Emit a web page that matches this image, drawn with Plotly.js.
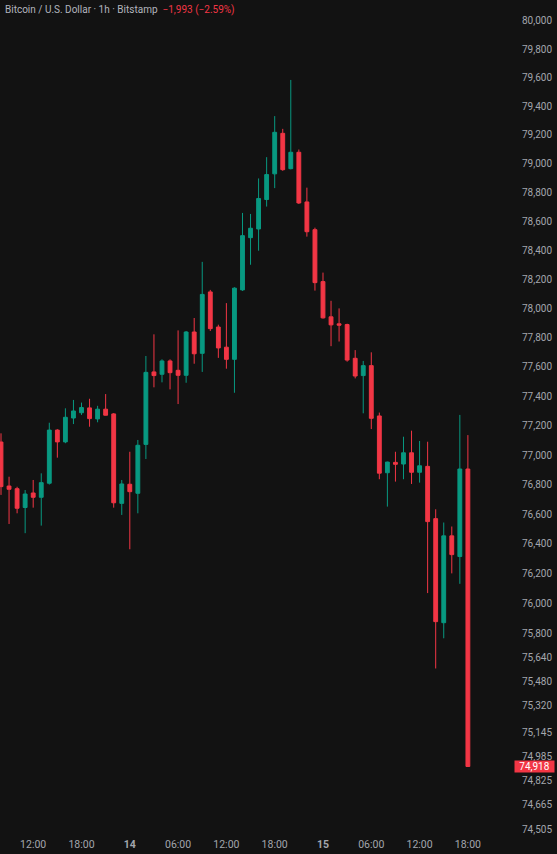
<!DOCTYPE html>
<html>
<head>
<meta charset="utf-8">
<script src="https://cdn.plot.ly/plotly-3.0.1.min.js"></script>
<style>
  html, body { margin: 0; padding: 0; background: #121212; }
  #chart { width: 557px; height: 854px; }
</style>
</head>
<body>
<div id="chart"></div>
<script>
// Hourly candles, 13th 08:00 -> 15th 18:00 (Bitstamp BTC/USD, 1h)
const startHour = '2026-02-13T08:00:00Z';
const opens  = [77088,76790,76772,76645,76743,76714,76809,77169,77089,77251,77287,77320,77245,77311,77279,76673,
                76802,76741,77072,77565,77549,77640,77576,77542,77838,77692,78113,77872,77734,77651,78127,78487,78547,78751,78929,79211,78965,79079,78734,78542,
                78184,77942,77894,77889,77658,77540,77608,77265,76880,76950,76939,77015,76883,76923,76570,75872,76454,76315,76905];
const highs  = [77147,76853,76785,76763,76831,76876,77219,77175,77317,77374,77356,77382,77334,77414,77285,76831,
                77022,77102,77674,77822,77651,77651,77849,77845,77934,78320,78127,77888,78036,78145,78658,78651,78897,79045,79331,79242,79584,79098,78833,78556,
                78246,78052,78000,77895,77714,77640,77699,77288,76955,77022,77124,77165,77095,77090,76633,76544,76517,77272,77135];
const lows   = [76730,76534,76606,76472,76644,76523,76800,76982,77080,77210,77272,77192,77222,77300,76644,76595,
                76364,76606,76973,77460,77494,77446,77346,77491,77621,77565,77845,77661,77587,77423,78120,78300,78397,78702,78830,78950,78960,78720,78494,78122,
                77930,77741,77773,77635,77521,77283,77176,76836,76651,76820,76836,76804,76813,76070,75567,75768,76202,76132,74918];
const closes = [76786,76768,76640,76736,76714,76813,77169,77089,77256,77299,77322,77247,77311,77270,76677,76804,
                76752,77066,77562,77540,77640,77560,77542,77838,77689,78096,77861,77729,77651,78139,78501,78552,78758,78924,79218,78958,79079,78727,78528,78177,
                77935,77887,77885,77646,77537,77608,77249,76877,76952,76937,77015,76883,76927,76550,75879,76454,76328,76905,74918];

const priceTicks = [80000,79800,79600,79400,79200,79000,78800,78600,78400,78200,78000,77800,77600,77400,77200,77000,
                    76800,76600,76400,76200,76000,75800,75640,75480,75320,75145,74985,74825,74665,74505];
const timeTickHours = [4,10,16,22,28,34,40,46,52,58]; // hours after start
const timeTickLabels = ['12:00','18:00','<b>14</b>','06:00','12:00','18:00','<b>15</b>','06:00','12:00','18:00'];

const titleText = 'Bitcoin / U.S. Dollar · 1h · Bitstamp';
const changeText = '\u22121,993 (\u22122.59%)';
const lastPriceText = '74,918';

const H = 3600000;
const t0 = new Date(startHour).getTime();
function fmt(ms) {
  const d = new Date(ms);
  const p = (n, l=2) => String(n).padStart(l, '0');
  return d.getUTCFullYear() + '-' + p(d.getUTCMonth()+1) + '-' + p(d.getUTCDate()) + ' ' +
         p(d.getUTCHours()) + ':' + p(d.getUTCMinutes()) + ':' + p(d.getUTCSeconds()) + '.' + p(d.getUTCMilliseconds(),3);
}
const times = opens.map((_, i) => fmt(t0 + i * H));

const GREEN = '#089981', RED = '#f23645';
const fontFam = 'Roboto, Inter, "Noto Sans", sans-serif';

const trace = {
  type: 'candlestick',
  x: times, open: opens, high: highs, low: lows, close: closes,
  increasing: { line: { color: GREEN, width: 1 }, fillcolor: GREEN },
  decreasing: { line: { color: RED, width: 1 }, fillcolor: RED },
  whiskerwidth: 0,
  hoverinfo: 'skip'
};

const layout = {
  width: 557, height: 854,
  paper_bgcolor: '#121212', plot_bgcolor: '#121212',
  margin: { l: 0, r: 45, t: 0, b: 18 },
  showlegend: false,
  boxgap: 0.32,
  font: { family: fontFam, size: 10, color: '#a3a6ad' },
  xaxis: {
    type: 'date',
    range: [fmt(t0 - 0.124 * H), fmt(t0 + 63.48 * H)],
    rangeslider: { visible: false },
    showgrid: false, zeroline: false, showline: false, ticks: '',
    tickmode: 'array',
    tickvals: timeTickHours.map(h => fmt(t0 + h * H)),
    ticktext: timeTickLabels,
    tickfont: { family: fontFam, size: 10.5, color: '#a3a6ad' },
    fixedrange: true
  },
  yaxis: {
    type: 'log', side: 'right',
    range: [4.871929, 4.903881],
    showgrid: false, zeroline: false, showline: false, ticks: '',
    tickmode: 'array',
    tickvals: priceTicks,
    ticktext: priceTicks.map(v => v.toLocaleString('en-US')),
    ticklabelstandoff: 9,
    tickfont: { family: fontFam, size: 10, color: '#a3a6ad' },
    fixedrange: true
  },
  annotations: [
    {
      xref: 'paper', yref: 'paper', x: 0, y: 1, xanchor: 'left', yanchor: 'top',
      xshift: 3, yshift: -2, showarrow: false,
      text: titleText + '  <span style="color:#f23645">' + changeText + '</span>',
      font: { family: fontFam, size: 10, color: '#b2b5be' }
    },
    {
      xref: 'paper', yref: 'y', x: 1, y: Math.log10(closes[closes.length - 1]),
      xanchor: 'left', yanchor: 'middle', xshift: 2, showarrow: false,
      text: lastPriceText, bgcolor: RED, borderpad: 0,
      width: 39, height: 11, align: 'center', valign: 'middle',
      font: { family: fontFam, size: 10, color: '#ffffff' }
    }
  ]
};

Plotly.newPlot('chart', [trace], layout, { displayModeBar: false, staticPlot: true });
</script>
</body>
</html>
